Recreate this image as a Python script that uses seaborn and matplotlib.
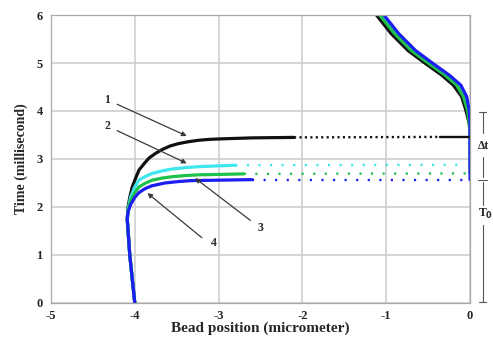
import numpy as np
import pandas as pd
import seaborn as sns
import matplotlib
matplotlib.use("Agg")
import matplotlib.pyplot as plt

# --- data (x: micrometer, t: millisecond) ---
# common rise from the start position (all four curves overlap here)
rise_x = [-4.00, -4.03, -4.06, -4.08, -4.09]
rise_t = [0.00, 0.50, 1.00, 1.50, 1.75]

# bend towards the plateau, per curve
black_x = [-4.08, -4.06, -4.03, -3.99, -3.95, -3.89, -3.83, -3.75, -3.67, -3.58, -3.48, -3.36, -3.24, -3.10, -2.96, -2.60, -2.10]
black_t = [2.00, 2.20, 2.42, 2.60, 2.77, 2.90, 3.02, 3.12, 3.20, 3.27, 3.32, 3.36, 3.39, 3.41, 3.42, 3.44, 3.45]
cyan_x = [-4.08, -4.05, -4.00, -3.95, -3.87, -3.79, -3.68, -3.56, -3.40, -3.24, -2.96, -2.80]
cyan_t = [1.95, 2.20, 2.42, 2.56, 2.64, 2.70, 2.75, 2.79, 2.82, 2.84, 2.86, 2.87]
green_x = [-4.08, -4.05, -4.00, -3.95, -3.87, -3.79, -3.68, -3.56, -3.40, -3.24, -2.96, -2.70]
green_t = [1.92, 2.13, 2.30, 2.42, 2.50, 2.56, 2.60, 2.63, 2.655, 2.67, 2.68, 2.69]
blue_x = [-4.08, -4.05, -4.00, -3.95, -3.88, -3.80, -3.64, -3.48, -3.32, -2.96, -2.60]
blue_t = [1.90, 2.05, 2.20, 2.30, 2.38, 2.44, 2.50, 2.53, 2.55, 2.56, 2.57]

# sparse (dotted) plateau: x range and level
dot_black = ([-2.10, -0.36], [3.45, 3.46])
dot_cyan = ([-2.80, -0.05], [2.87, 2.88])
dot_green = ([-2.70, -0.05], [2.69, 2.70])
dot_blue = ([-2.60, -0.05], [2.57, 2.57])
black_end = ([-0.36, 0.00], [3.46, 3.46])

# return branch at the right edge
ret_t = [3.74, 4.02, 4.30, 4.54, 4.75, 5.00, 5.26, 5.61, 6.05]
black_ret_x = [-0.01, -0.05, -0.10, -0.20, -0.34, -0.54, -0.74, -0.94, -1.14]
green_ret_x = [-0.01, -0.03, -0.08, -0.16, -0.30, -0.50, -0.70, -0.90, -1.10]
cyan_ret_x = [0.00, -0.02, -0.06, -0.14, -0.28, -0.48, -0.68, -0.88, -1.08]
blue_ret_x = [0.00, -0.01, -0.04, -0.11, -0.25, -0.45, -0.65, -0.85, -1.05]

labels = ["1", "2", "3", "4"]
label_xy = [(-4.33, 4.23), (-4.33, 3.69), (-2.50, 1.56), (-3.06, 1.25)]
arrow_xy = [(-3.38, 3.48), (-3.38, 2.91), (-3.28, 2.60), (-3.85, 2.29)]
tail_xy = [(-4.21, 4.14), (-4.21, 3.59), (-2.62, 1.72), (-3.20, 1.36)]

colors = {"black": "#111111", "cyan": "#3ee6ee", "green": "#1fc04c", "blue": "#1a1ef0"}

sns.set_theme(style="whitegrid")
plt.rcParams["font.family"] = ["Liberation Serif", "DejaVu Serif"]
plt.rcParams["font.weight"] = "bold"
plt.rcParams["axes.unicode_minus"] = False

fig = plt.figure(figsize=(4.93, 3.38), dpi=100)
ax = fig.add_axes([0.1034, 0.1036, 0.8500, 0.8520])

curves = [
    ("black", black_x, black_t, dot_black, black_ret_x),
    ("cyan", cyan_x, cyan_t, dot_cyan, cyan_ret_x),
    ("green", green_x, green_t, dot_green, green_ret_x),
    ("blue", blue_x, blue_t, dot_blue, blue_ret_x),
]

for name, xs, ts, dots, rx in curves:
    c = colors[name]
    sns.lineplot(x=rise_x + xs, y=rise_t + ts, sort=False, estimator=None,
                 color=c, lw=2.3, ax=ax)
    gap = 1.4 if name == "black" else 4.0
    sns.lineplot(x=dots[0], y=dots[1], sort=False, estimator=None, color=c, lw=1.7,
                 linestyle=(0, (0.9, gap)), ax=ax)
    # vertical rise at x=0 then the return branch
    sns.lineplot(x=[0.0, 0.0] + rx, y=[dots[1][-1], ret_t[0] - 0.15] + ret_t,
                 sort=False, estimator=None, color=c, lw=2.3, ax=ax)

sns.lineplot(x=black_end[0], y=black_end[1], sort=False, estimator=None,
             color=colors["black"], lw=1.7, ax=ax)

for lab, (lx, ly), (hx, hy), (tx, ty) in zip(labels, label_xy, arrow_xy, tail_xy):
    ax.text(lx, ly, lab, fontsize=8.5, ha="center", va="center")
    ax.annotate("", xy=(hx, hy), xytext=(tx, ty),
                arrowprops=dict(arrowstyle="-|>", color="#3a3a3a", lw=0.9,
                                mutation_scale=7, shrinkA=0, shrinkB=0))

# dimension marks on the right
rx0 = 0.15
kw = dict(color="#555555", lw=0.8, clip_on=False)
ax.plot([rx0, rx0], [3.97, 3.55], **kw)
ax.plot([rx0 - 0.04, rx0 + 0.04], [3.97, 3.97], **kw)
ax.plot([rx0, rx0], [3.05, 2.62], **kw)
ax.plot([rx0 - 0.05, rx0 + 0.05], [2.57, 2.57], **kw)
ax.plot([rx0, rx0], [2.52, 2.05], **kw)
ax.plot([rx0, rx0], [1.62, 0.02], **kw)
ax.plot([rx0 - 0.04, rx0 + 0.04], [0.02, 0.02], **kw)
ax.text(rx0 - 0.06, 3.28, "Δt", fontsize=8.5, ha="left", va="center", clip_on=False)
ax.text(rx0 - 0.06, 1.85, "T$_0$", fontsize=8.5, ha="left", va="center", clip_on=False)

ax.set_xlim(-5, 0)
ax.set_ylim(0, 6)
ax.set_xticks([-5, -4, -3, -2, -1, 0])
ax.set_yticks([0, 1, 2, 3, 4, 5, 6])
ax.grid(True, color="#cfcfcf", lw=1.2)
for s in ax.spines.values():
    s.set_color("#a8a8a8")
    s.set_linewidth(0.9)
ax.tick_params(labelsize=9, length=0)
ax.tick_params(axis="x", pad=5)
ax.tick_params(axis="y", pad=6)
for lbl in ax.get_xticklabels() + ax.get_yticklabels():
    lbl.set_fontweight("bold")
ax.set_xlabel("Bead position (micrometer)", fontsize=11, fontweight="bold", labelpad=0)
ax.set_ylabel("Time (millisecond)", fontsize=10, fontweight="bold", labelpad=6)

fig.savefig("out.png", dpi=100)
